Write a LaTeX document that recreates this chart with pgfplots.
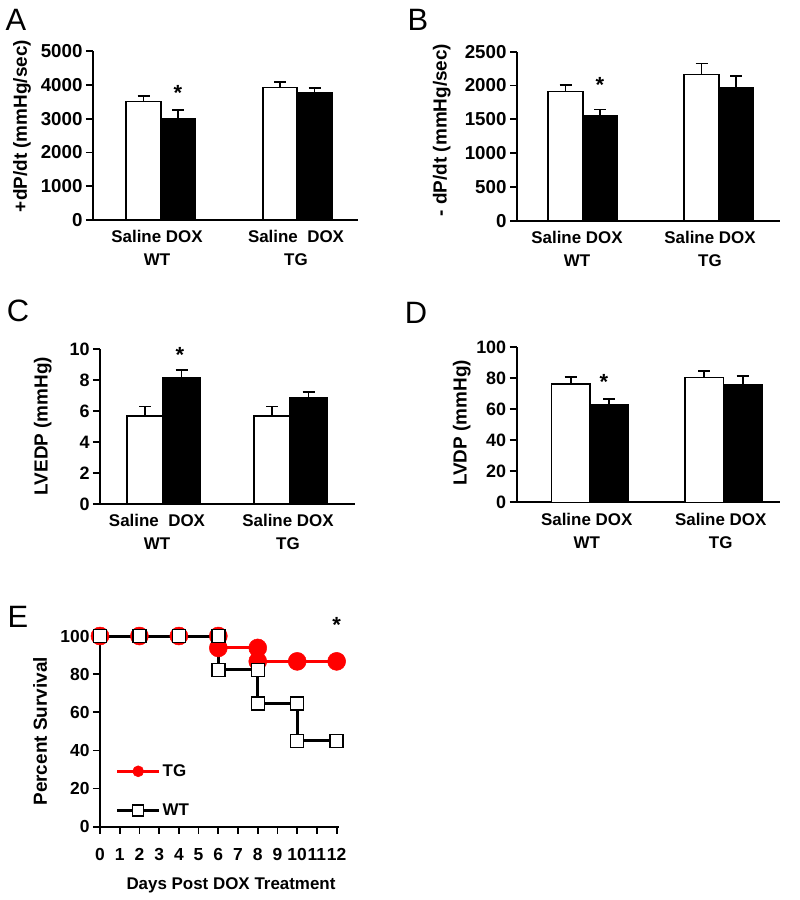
\documentclass[border=0pt]{standalone}
\usepackage{fontspec}
\setmainfont{Liberation Sans}
\usepackage{pgfplots}
\pgfplotsset{compat=1.18}

\newcommand{\tkA}{\bfseries\fontsize{18.8}{22}\selectfont}
\newcommand{\tkC}{\bfseries\fontsize{18}{22}\selectfont}
\newcommand{\tkE}{\bfseries\fontsize{17.5}{20}\selectfont}
\newcommand{\lbf}{\bfseries\fontsize{17}{23}\selectfont}
\newcommand{\ylf}{\bfseries\fontsize{19}{22}\selectfont}
\newcommand{\pnl}{\fontsize{31}{32}\selectfont}
\newcommand{\stf}{\bfseries\fontsize{22}{22}\selectfont}

\tikzset{sig/.style={font=\stf, anchor=base, yshift=-12.5bp}}
\pgfplotsset{
  base/.style={scale only axis, anchor=south west, axis x line*=bottom, axis y line*=left,
    ymin=0, clip=false, tick align=outside, major tick length=7bp,
    tick style={black, line width=1.8bp},
    axis line style={line width=1.8bp, black},
    /pgf/number format/assume math mode=true,
    /pgf/number format/1000 sep={},
    xlabel style={font=\lbf}, ylabel style={font=\ylf},
    scaled y ticks=false},
  barax/.style={base, xmin=0, xtick style={draw=none}, xticklabel style={align=center, font=\lbf}},
  errb/.style={/pgfplots/error bars/y dir=plus, /pgfplots/error bars/y explicit,
    /pgfplots/error bars/error bar style={line width=1.8bp, black},
    /pgfplots/error bars/error mark options={rotate=90, line width=1.8bp, mark size=6bp, black}},
  wbar/.style={ybar, bar shift=0pt, fill=white, draw=black, line width=1.6bp, errb},
  bbar/.style={ybar, bar shift=0pt, fill=black, draw=black, line width=1.6bp, errb}
}

\begin{document}
\begin{tikzpicture}
\useasboundingbox (0,0) rectangle (800bp,-900bp);

% Panel letters
\node[font=\pnl] at (16bp,-20bp) {A};
\node[font=\pnl] at (418bp,-20bp) {B};
\node[font=\pnl] at (18bp,-311bp) {C};
\node[font=\pnl] at (416bp,-313bp) {D};
\node[font=\pnl] at (18bp,-617bp) {E};

% ---------- A ----------
\begin{axis}[barax, at={(93bp,-220bp)}, width=265bp, height=169bp,
  yticklabel style={font=\tkA},
  xmax=265, ymax=5000, ytick={0,1000,...,5000},
  xtick={64,203}, xticklabels={{Saline DOX\\WT},{Saline~ DOX\\TG}},
  ylabel={+dP/dt (mmHg/sec)},
  ylabel style={at={(axis description cs:-0.268,0.556)}, anchor=center}]
\addplot[wbar, bar width=34.5] coordinates {(50.5,3510) +- (0,165) (187,3915) +- (0,175)};
\addplot[bbar, bar width=34.5] coordinates {(85,2990) +- (0,260) (221.5,3750) +- (0,150)};
\node[sig] at (axis cs:85,3905) {*};
\end{axis}

% ---------- B ----------
\begin{axis}[barax, at={(517bp,-220.7bp)}, width=263bp, height=169bp,
  yticklabel style={font=\tkA},
  xmax=263, ymax=2500, ytick={0,500,...,2500},
  xtick={60,193}, xticklabels={{Saline DOX\\WT},{Saline DOX\\TG}},
  ylabel={- dP/dt (mmHg/sec)},
  ylabel style={at={(axis description cs:-0.286,0.537)}, anchor=center}]
\addplot[wbar, bar width=34.5] coordinates {(48.5,1910) +- (0,95) (184.5,2160) +- (0,165)};
\addplot[bbar, bar width=34.5] coordinates {(83,1545) +- (0,100) (219,1965) +- (0,175)};
\node[sig] at (axis cs:83,2081) {*};
\end{axis}

% ---------- C ----------
\begin{axis}[barax, at={(100bp,-504bp)}, width=255bp, height=154.7bp,
  yticklabel style={font=\tkC},
  xmax=255, ymax=10, ytick={0,2,...,10},
  xtick={57,188}, xticklabels={{Saline~ DOX\\WT},{Saline DOX\\TG}},
  ylabel={LVEDP (mmHg)},
  ylabel style={at={(axis description cs:-0.224,0.504)}, anchor=center}]
\addplot[wbar, bar width=36.5] coordinates {(45,5.7) +- (0,0.6) (172,5.7) +- (0,0.6)};
\addplot[bbar, bar width=36.5] coordinates {(81.5,8.15) +- (0,0.5) (208.5,6.85) +- (0,0.4)};
\node[sig] at (axis cs:80,9.95) {*};
\end{axis}

% ---------- D ----------
\begin{axis}[barax, at={(516.7bp,-502.3bp)}, width=263.3bp, height=155bp,
  yticklabel style={font=\tkC},
  xmax=263.3, ymax=100, ytick={0,20,...,100},
  xtick={70,204}, xticklabels={{Saline DOX\\WT},{Saline DOX\\TG}},
  ylabel={LVDP (mmHg)},
  ylabel style={at={(axis description cs:-0.209,0.512)}, anchor=center}]
\addplot[wbar, bar width=38.5] coordinates {(54,76.3) +- (0,4.6) (187.5,80.4) +- (0,4.3)};
\addplot[bbar, bar width=38.5] coordinates {(92.5,63.2) +- (0,3.5) (226,75.7) +- (0,6)};
\node[sig] at (axis cs:87.3,80.6) {*};
\end{axis}

% ---------- E ----------
\begin{axis}[base, at={(100bp,-826.7bp)}, width=238.6bp, height=190.7bp,
  tick label style={font=\tkE}, xticklabel shift=11bp,
  xmin=0, xmax=12.1, ymax=100, xtick={0,1,...,12}, ytick={0,20,...,100},
  xlabel={Days Post DOX Treatment},
  xlabel style={at={(axis description cs:0.549,-0.306)}, anchor=center},
  ylabel={Percent Survival},
  ylabel style={at={(axis description cs:-0.251,0.5)}, anchor=center},
  legend style={at={(axis description cs:0.065,0.337)}, anchor=north west, draw=none, fill=none,
    inner sep=0pt, row sep=22bp, font=\lbf, cells={anchor=west},
    nodes={inner xsep=2bp}},
  legend image code/.code={\draw[mark repeat=2,mark phase=2,#1, mark size=5.5bp] plot coordinates {(0bp,0bp) (21bp,0bp) (42bp,0bp)};}]
\addplot[red, line width=3bp, mark=*, mark size=9bp, mark options={fill=red, draw=red, line width=0.5bp}]
  coordinates {(0,100) (2,100) (4,100) (6,100) (6,93.75) (8,93.75) (8,86.7) (10,86.7) (12,86.7)};
\addlegendentry{TG}
\addplot[black, line width=3bp, mark=square*, mark size=6.5bp, mark options={fill=white, draw=black, line width=1.5bp}]
  coordinates {(0,100) (2,100) (4,100) (6,100) (6,82.3) (8,82.3) (8,64.7) (10,64.7) (10,45) (12,45)};
\addlegendentry{WT}
\node[sig] at (axis cs:12,108.4) {*};
\end{axis}
\end{tikzpicture}
\end{document}
